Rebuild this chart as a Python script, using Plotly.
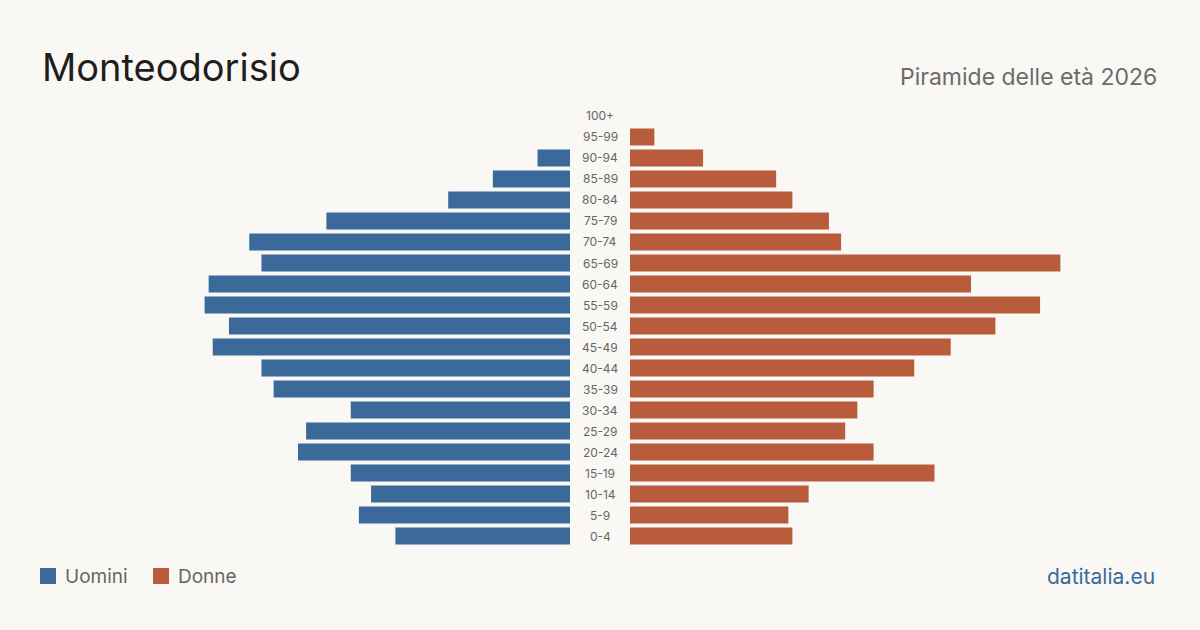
import plotly.graph_objects as go

age_groups = ["100+", "95-99", "90-94", "85-89", "80-84", "75-79", "70-74", "65-69",
              "60-64", "55-59", "50-54", "45-49", "40-44", "35-39", "30-34", "25-29",
              "20-24", "15-19", "10-14", "5-9", "0-4"]
men = [0, 0, 8, 19, 30, 60, 79, 76, 89, 90, 84, 88, 76, 73, 54, 65, 67, 54, 49, 52, 43]
women = [0, 6, 18, 36, 40, 49, 52, 106, 84, 101, 90, 79, 70, 60, 56, 53, 60, 75, 44, 39, 40]

title = "Monteodorisio"
subtitle = "Piramide delle età 2026"
source = "datitalia.eu"
men_label = "Uomini"
women_label = "Donne"

BG = "#f9f8f4"
BLUE = "#3b6a9a"
ORANGE = "#b85c3c"
FONT = "Inter, Roboto, sans-serif"

W, H = 1200, 630
R = 110
scale = 4.06
male_right = 570
female_left = 630
male_left = male_right - R * scale
female_right = female_left + R * scale

top_px, bottom_px = 105.5, 546.5

fig = go.Figure()
fig.add_trace(go.Bar(y=age_groups, x=men, orientation="h", marker_color=BLUE,
                     marker_line_width=0,
                     xaxis="x", yaxis="y", name=men_label, showlegend=False,
                     hoverinfo="x+y"))
fig.add_trace(go.Bar(y=age_groups, x=women, orientation="h", marker_color=ORANGE,
                     marker_line_width=0,
                     xaxis="x2", yaxis="y", name=women_label, showlegend=False,
                     hoverinfo="x+y"))

annotations = []
for g in age_groups:
    annotations.append(dict(x=600 / W, y=g, xref="paper", yref="y", text=g,
                            showarrow=False, xanchor="center", yanchor="middle",
                            font=dict(size=12, color="#666666", family=FONT)))

annotations += [
    dict(x=40 / W, y=1 - 67 / H, xref="paper", yref="paper", text=title, showarrow=False,
         xanchor="left", yanchor="middle", font=dict(size=38, color="#1e1e1e", family=FONT)),
    dict(x=1159 / W, y=1 - 77 / H, xref="paper", yref="paper", text=subtitle, showarrow=False,
         xanchor="right", yanchor="middle", font=dict(size=23, color="#6b6b6b", family=FONT)),
    dict(x=1157 / W, y=1 - 576 / H, xref="paper", yref="paper", text=source, showarrow=False,
         xanchor="right", yanchor="middle", font=dict(size=21, color="#3b6a9a", family=FONT)),
    dict(x=63 / W, y=1 - 576 / H, xref="paper", yref="paper", text=men_label, showarrow=False,
         xanchor="left", yanchor="middle", font=dict(size=19, color="#666666", family=FONT)),
    dict(x=176 / W, y=1 - 576 / H, xref="paper", yref="paper", text=women_label, showarrow=False,
         xanchor="left", yanchor="middle", font=dict(size=19, color="#666666", family=FONT)),
]

shapes = [
    dict(type="rect", xref="paper", yref="paper", x0=40 / W, x1=56 / W,
         y0=1 - 584 / H, y1=1 - 568 / H, fillcolor=BLUE, line=dict(width=0)),
    dict(type="rect", xref="paper", yref="paper", x0=153 / W, x1=169 / W,
         y0=1 - 584 / H, y1=1 - 568 / H, fillcolor=ORANGE, line=dict(width=0)),
]

fig.update_layout(
    width=W, height=H,
    margin=dict(l=0, r=0, t=0, b=0),
    paper_bgcolor=BG, plot_bgcolor=BG,
    bargap=0.19,
    showlegend=False,
    xaxis=dict(domain=[male_left / W, male_right / W], range=[R, 0], visible=False, fixedrange=True),
    xaxis2=dict(domain=[female_left / W, female_right / W], range=[0, R], visible=False,
                anchor="y", fixedrange=True),
    yaxis=dict(domain=[1 - bottom_px / H, 1 - top_px / H], categoryorder="array",
               categoryarray=age_groups[::-1], visible=False, range=[-0.5, 20.5], fixedrange=True),
    annotations=annotations,
    shapes=shapes,
    font=dict(family=FONT),
)

fig.write_html("out.html")
